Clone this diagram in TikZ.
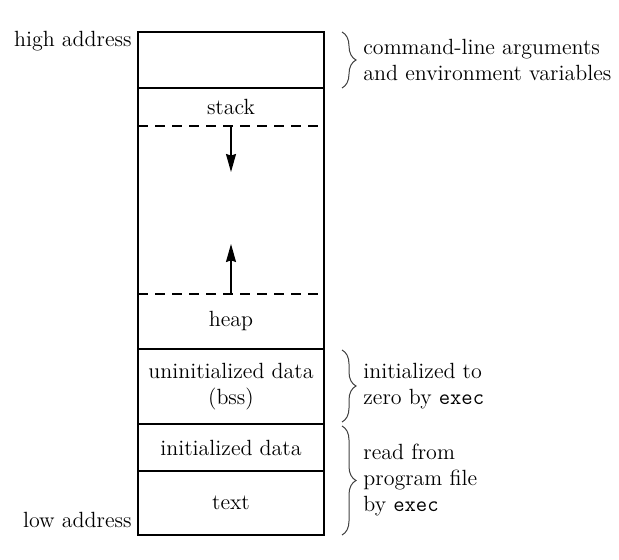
\documentclass[tikz,border=0pt]{standalone}
\usetikzlibrary{arrows.meta, positioning, calc, decorations.pathreplacing}

\begin{document}
\begin{tikzpicture}[x=0.5pt, y=-0.5pt, font=\fontsize{11}{13}\selectfont,
    seg/.style={minimum width=93pt, inner sep=0pt, outer sep=0pt, align=center},
    wall/.style={line width=0.6pt},
    splitline/.style={line width=0.6pt, dash pattern=on 5pt off 3.5pt},
    growarrow/.style={-{Stealth[length=9pt, width=5pt, inset=0.8pt]}, line width=0.6pt},
    bracemark/.style={decorate, decoration={brace, amplitude=7pt}, line width=0.5pt, black!75},
    notetext/.style={anchor=west, align=left, inner sep=0pt},
    addr/.style={anchor=base east, inner sep=0pt}]
  \useasboundingbox (0,0) rectangle (619,560);

  \node[seg, minimum height=28pt] (args) at (231,60) {};
  \node[seg, minimum height=19pt, below=0pt of args] (stack) {stack};
  \node[seg, minimum height=84pt, below=0pt of stack] (free) {};
  \node[seg, minimum height=27.5pt, below=0pt of free] (heap) {heap};
  \node[seg, minimum height=37.5pt, below=0pt of heap] (bss) {uninitialized data\\(bss)};
  \node[seg, minimum height=23.5pt, below=0pt of bss] (idata) {initialized data};
  \node[seg, minimum height=32pt, below=0pt of idata] (text) {text};

  \draw[wall] (args.north west) rectangle (text.south east);
  \draw[wall] (args.south west) -- (args.south east);
  \draw[wall] (heap.south west) -- (heap.south east);
  \draw[wall] (bss.south west) -- (bss.south east);
  \draw[wall] (idata.south west) -- (idata.south east);
  \draw[splitline] (stack.south west) -- (stack.south east);
  \draw[splitline] (heap.north west) -- (heap.north east);

  \coordinate (sdown) at ($(stack.south)+(0,-23pt)$);
  \coordinate (hup) at ($(heap.north)+(0,25pt)$);
  \draw[growarrow] (stack.south) -- (sdown);
  \draw[growarrow] (heap.north) -- (hup);

  \node[addr] (high) at ($(args.north west)+(-3pt,-7.5pt)$) {high address};
  \node[addr] (low) at ($(text.south west)+(-3pt,4pt)$) {low address};

  \draw[bracemark] ($(args.north east)+(9pt,0)$) -- ($(args.south east)+(9pt,0)$);
  \draw[bracemark] ($(bss.north east)+(9pt,-0.5pt)$) -- ($(bss.south east)+(9pt,1pt)$);
  \draw[bracemark] ($(idata.north east)+(9pt,-1pt)$) -- ($(text.south east)+(9pt,0)$);

  \node[notetext] (argsnote) at ($(args.east)+(19.5pt,0)$) {command-line arguments\\and environment variables};
  \node[notetext] (bssnote) at ($(bss.east)+(19.5pt,0)$) {initialized to\\zero by \texttt{exec}};
  \node[notetext] (filenote) at ($(idata.north east)!0.5!(text.south east)+(19.5pt,0)$) {read from\\program file\\by \texttt{exec}};
\end{tikzpicture}
\end{document}
